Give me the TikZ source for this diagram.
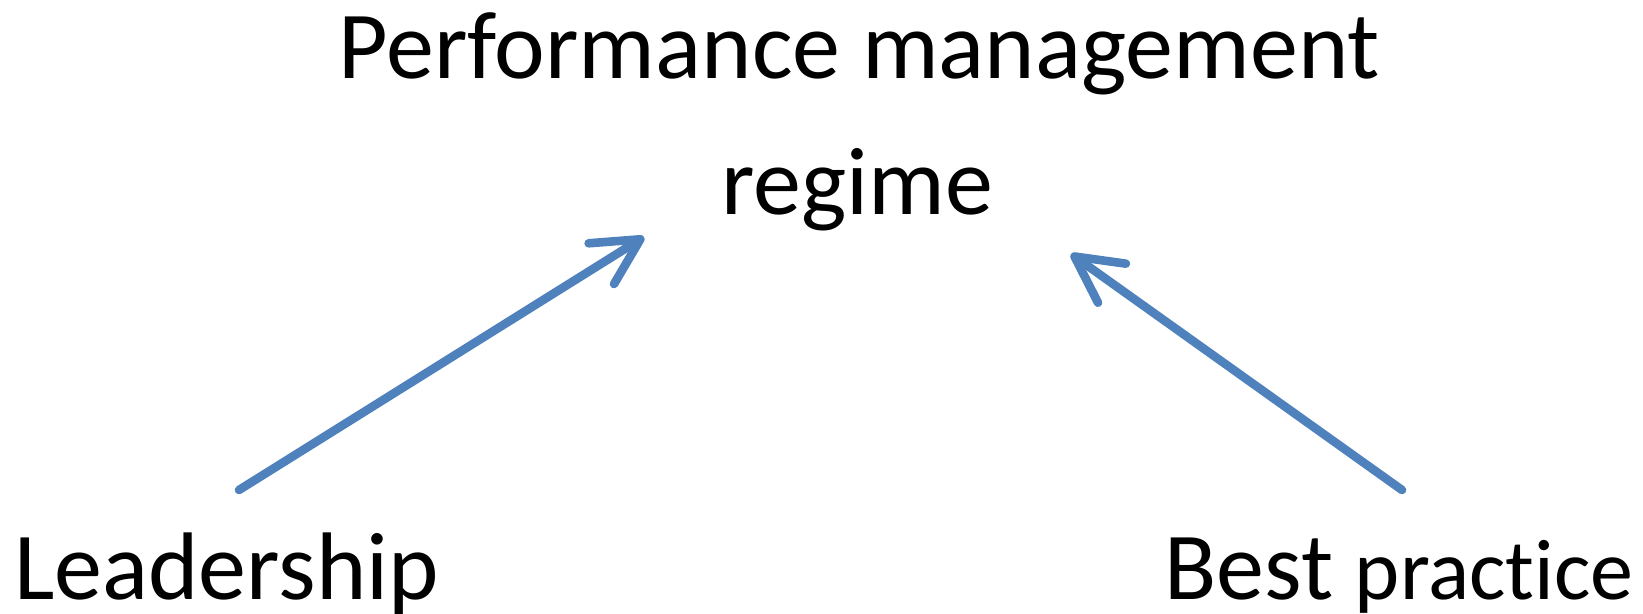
\documentclass[tikz,border=0pt]{standalone}
\usepackage{fontspec}
\setmainfont[Ligatures=NoCommon]{Carlito}
\usetikzlibrary{arrows.meta}
\definecolor{arrowblue}{HTML}{4F81BD}
\tikzset{
  label text/.style={inner sep=0pt, font=\fontsize{48}{58}\selectfont},
  flow arrow/.style={draw=arrowblue, line width=4.3pt, line cap=round, line join=round,
    -{Straight Barb[length=23pt, width=24pt, line cap=round, line join=round]}}
}
\begin{document}
\begin{tikzpicture}[x=0.5pt, y=-0.5pt]
\useasboundingbox (0,0) rectangle (1643,614);
\node[label text, anchor=base] (perf) at (859,79) {Performance management};
\node[label text, anchor=base] (regime) at (857,215) {regime};
\node[label text, anchor=base west] (lead) at (14,599) {Leadership};
\node[label text, anchor=base east] (best) at (1634,599) {Best {\fontsize{43}{52}\selectfont practice}};
\coordinate (leadtail) at (239,490);
\coordinate (leadtip) at (644,237);
\coordinate (besttail) at (1402,490);
\coordinate (besttip) at (1071,254);
\draw[flow arrow] (leadtail) -- (leadtip);
\draw[flow arrow] (besttail) -- (besttip);
\end{tikzpicture}
\end{document}
